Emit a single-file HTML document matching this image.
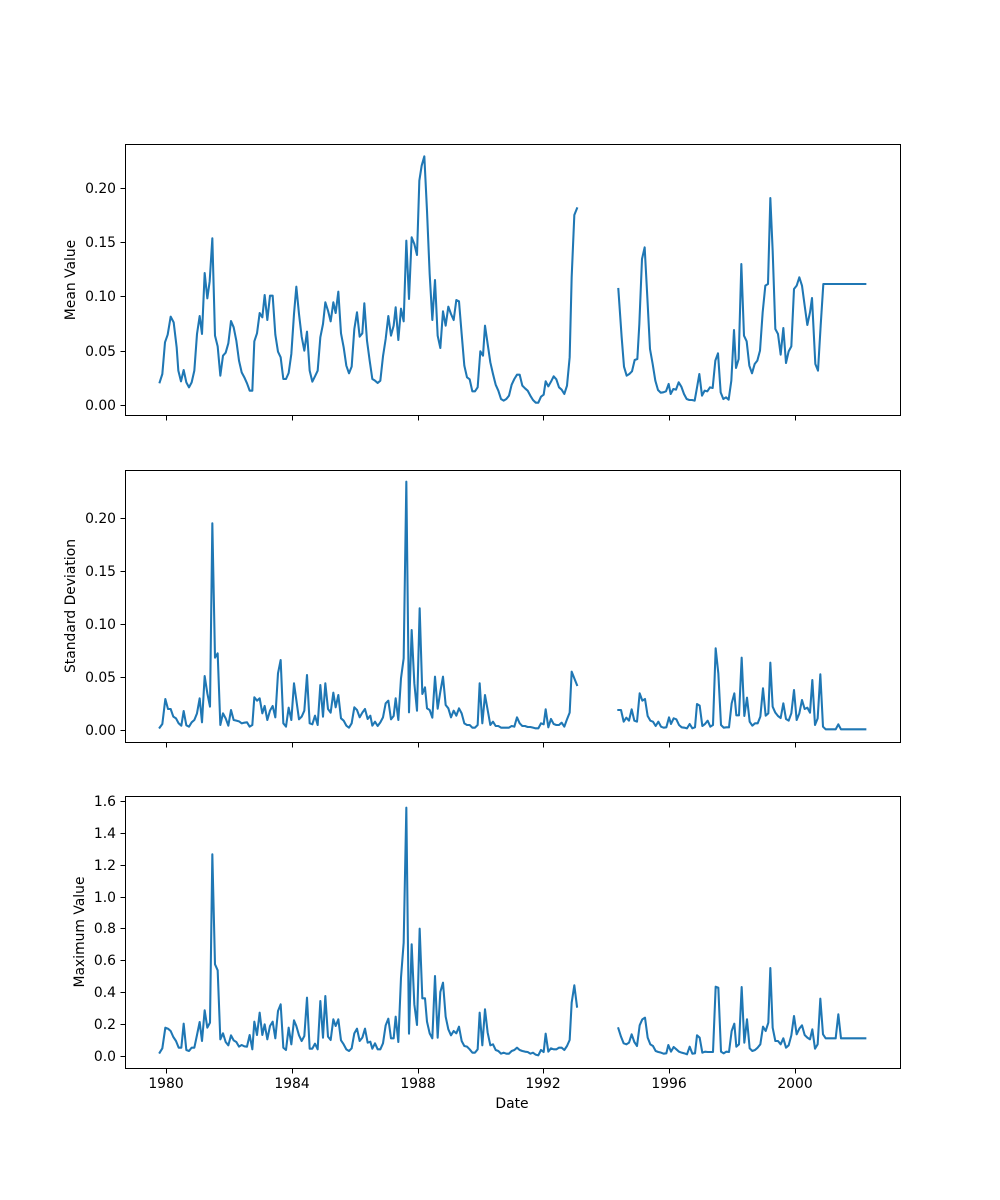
<!DOCTYPE html>
<html><head><meta charset="utf-8"><style>
html,body{margin:0;padding:0;background:#fff}
svg{display:block}
text{font-family:"DejaVu Sans","Liberation Sans",sans-serif;font-size:13.9px;fill:#000}
</style></head><body>
<svg width="1000" height="1200" viewBox="0 0 1000 1200" xmlns="http://www.w3.org/2000/svg">
<rect width="1000" height="1200" fill="#fff"/>
<g fill="none" stroke="#1f77b4" stroke-width="6.2" stroke-linejoin="round" stroke-linecap="square">
<!-- Panel 1 -->
<g transform="translate(125,144) scale(0.33333)">
<polyline points="104,715 112,690 120,595 128,572 137,518 146,535 155,610 160,680 168,712 176,678 184,715 192,730 200,715 208,680 216,570 224,516 231,570 239,387 247,463 254,412 262,283 270,575 278,607 286,695 294,635 302,626 310,598 318,531 326,550 334,590 342,650 350,685 358,700 366,718 374,740 382,740 388,592 396,568 404,507 412,520 419,453 427,528 435,455 443,455 451,572 459,623 467,640 475,705 483,705 491,687 499,630 507,510 514,428 522,510 530,578 538,620 546,563 554,680 562,713 570,697 578,680 586,580 594,540 601,475 609,500 617,532 625,475 632,507 640,443 648,568 656,610 664,665 672,688 680,668 688,555 696,505 704,578 712,568 718,478 726,590 734,650 742,705 750,710 758,717 766,710 774,637 782,585 790,516 798,575 806,545 812,490 820,588 828,494 836,532 844,290 852,465 860,280 868,300 876,333 883,110 890,65 898,37 906,200 914,390 922,528 930,408 938,575 946,612 954,502 962,545 970,488 978,510 986,528 994,468 1002,472 1010,570 1018,665 1026,700 1034,706 1042,742 1050,742 1058,730 1066,622 1074,635 1080,545 1088,600 1096,655 1104,690 1112,722 1120,740 1128,765 1136,770 1144,765 1152,755 1160,722 1168,705 1176,692 1184,692 1192,725 1200,733 1208,740 1216,755 1224,768 1232,776 1240,776 1248,758 1256,752 1262,712 1270,727 1278,713 1286,697 1294,706 1302,730 1310,737 1318,750 1326,725 1334,640 1340,400 1348,213 1356,193"/>
</g>
<g transform="translate(600,144) scale(0.33333)">
<polyline points="55,435 65,580 72,668 80,695 88,690 96,682 104,648 112,645 118,540 126,345 134,310 142,460 150,615 158,660 166,710 174,738 182,746 190,745 198,742 206,720 212,750 220,735 228,737 236,715 244,728 252,750 260,765 268,768 276,768 284,770 292,725 298,690 306,755 314,740 322,742 330,730 338,732 346,650 354,628 362,745 370,765 378,760 386,767 394,710 402,558 408,672 416,645 424,360 432,575 440,592 448,665 456,688 464,660 472,650 480,620 488,505 496,425 504,420 511,162 518,320 526,555 534,570 542,632 550,552 558,657 566,622 574,607 582,435 590,425 598,400 606,425 614,485 622,543 630,505 636,462 646,660 654,680 662,545 670,420 720,420 796,420"/>
</g>
<!-- Panel 2 -->
<g transform="translate(125,470) scale(0.33333)">
<polyline points="104,773 112,762 121,687 129,717 137,717 145,740 153,745 161,760 169,767 176,723 184,766 192,770 200,757 208,750 216,730 224,685 231,757 239,618 247,670 255,710 262,160 270,563 278,550 286,765 294,730 302,745 310,767 318,720 326,750 334,752 342,754 350,760 358,758 366,757 374,770 382,765 388,682 396,692 404,685 412,730 419,708 427,750 435,722 443,708 451,742 459,610 467,570 475,760 483,770 491,713 499,750 507,640 514,690 522,748 530,740 538,722 546,615 554,760 562,763 570,737 578,765 586,645 594,740 601,640 609,717 617,728 625,668 632,712 640,675 648,745 656,752 664,767 672,773 680,760 688,712 696,720 704,742 712,728 720,717 728,747 736,737 742,767 750,755 758,768 766,757 774,742 782,700 790,692 798,748 806,738 812,685 820,750 828,625 836,565 844,35 852,727 860,480 868,640 876,722 884,415 892,672 900,652 906,715 914,720 922,743 930,620 938,716 946,665 954,620 962,705 970,715 978,742 986,722 994,737 1002,715 1010,730 1018,760 1026,765 1034,765 1042,773 1050,773 1058,765 1064,640 1072,760 1080,675 1088,720 1096,765 1104,755 1112,768 1120,768 1128,773 1136,773 1144,773 1152,773 1160,768 1168,770 1176,742 1184,760 1192,768 1200,768 1208,771 1216,771 1224,773 1232,775 1240,775 1248,760 1256,763 1262,718 1270,772 1278,747 1286,762 1294,765 1302,765 1310,758 1318,770 1326,748 1334,728 1340,605 1348,625 1356,645"/>
</g>
<g transform="translate(600,470) scale(0.33333)">
<polyline points="55,720 63,720 71,755 79,743 87,752 95,718 103,752 111,755 119,670 127,692 135,687 143,738 151,752 159,755 167,768 175,755 183,770 191,773 199,772 207,742 213,762 221,745 229,748 237,765 245,772 253,773 261,775 269,762 277,775 285,772 291,702 299,707 307,768 315,762 323,752 331,770 339,765 347,535 355,610 363,765 371,773 379,772 387,772 395,700 403,670 409,736 417,736 425,563 433,738 441,683 449,755 457,767 465,760 473,760 481,740 489,655 497,737 505,730 511,578 518,710 526,728 534,738 542,744 550,700 558,747 566,752 574,730 582,660 590,750 598,730 606,690 614,717 622,713 630,728 637,630 645,765 653,745 661,613 669,770 677,778 707,778 715,763 723,778 796,778"/>
</g>
<!-- Panel 3 -->
<g transform="translate(125,796) scale(0.33333)">
<polyline points="104,770 112,757 121,695 129,698 137,705 145,723 153,735 161,755 169,755 176,683 184,762 192,765 200,755 208,755 216,717 224,678 231,735 239,643 247,695 255,680 262,175 270,505 278,523 286,730 294,712 302,738 310,748 318,718 326,733 334,738 342,752 350,747 358,751 366,752 374,717 382,760 388,677 396,717 404,650 412,717 419,685 427,730 435,690 443,677 451,727 459,645 467,625 475,755 483,762 491,695 499,745 507,673 514,690 522,718 530,735 538,720 546,605 554,758 562,758 570,743 578,760 586,615 594,725 601,600 609,722 617,732 625,670 632,690 640,670 648,733 656,745 664,760 672,765 680,757 688,712 696,698 704,735 712,725 720,698 728,740 736,737 742,758 750,742 758,760 766,760 774,742 782,688 790,668 798,727 806,727 812,662 820,738 828,545 836,440 844,35 852,713 860,445 868,625 876,687 884,398 892,607 900,607 906,677 914,712 922,727 930,540 938,725 946,588 954,560 962,662 970,700 978,718 986,705 994,712 1002,692 1010,735 1018,750 1026,752 1034,760 1042,770 1050,770 1058,760 1064,650 1072,748 1080,640 1088,710 1096,748 1104,745 1112,762 1120,765 1128,773 1136,770 1144,773 1152,773 1160,765 1168,762 1176,755 1184,762 1192,765 1200,767 1208,768 1216,773 1224,770 1232,776 1240,778 1248,762 1256,768 1262,713 1270,767 1278,757 1286,760 1294,760 1302,755 1310,755 1318,762 1326,750 1334,732 1340,620 1348,568 1356,632"/>
</g>
<g transform="translate(600,796) scale(0.33333)">
<polyline points="55,697 63,722 71,742 79,745 87,740 95,715 103,738 111,750 119,688 127,670 135,665 143,725 151,745 159,750 167,765 175,768 183,770 191,773 199,772 205,747 213,767 221,753 229,760 237,767 245,770 253,772 261,775 269,752 277,773 285,772 291,718 299,725 307,770 315,767 323,768 339,768 347,572 355,575 363,767 371,772 379,767 387,768 395,705 403,683 409,752 417,745 425,573 433,740 441,670 449,757 457,765 465,762 473,755 481,745 489,692 497,705 505,680 511,516 518,695 526,735 534,735 542,745 550,727 558,755 566,748 574,718 582,660 590,715 598,698 606,688 614,717 622,725 630,730 637,700 645,758 653,745 661,608 669,715 677,727 707,727 715,655 723,727 796,727"/>
</g>
</g>
<!-- Axes frames -->
<g fill="none" stroke="#000" stroke-width="1">
<rect x="125.5" y="144.5" width="775" height="271"/>
<rect x="125.5" y="470.5" width="775" height="272"/>
<rect x="125.5" y="796.5" width="775" height="272"/>
</g>
<!-- ticks -->
<g stroke="#000" stroke-width="1">
<path d="M166.5,415.5v5M292.5,415.5v5M418.5,415.5v5M543.5,415.5v5M669.5,415.5v5M795.5,415.5v5"/>
<path d="M166.5,742.5v5M292.5,742.5v5M418.5,742.5v5M543.5,742.5v5M669.5,742.5v5M795.5,742.5v5"/>
<path d="M166.5,1068.5v5M292.5,1068.5v5M418.5,1068.5v5M543.5,1068.5v5M669.5,1068.5v5M795.5,1068.5v5"/>
<path d="M125.5,405.5h-5M125.5,351.5h-5M125.5,296.5h-5M125.5,242.5h-5M125.5,188.5h-5"/>
<path d="M125.5,730.5h-5M125.5,677.5h-5M125.5,624.5h-5M125.5,571.5h-5M125.5,518.5h-5"/>
<path d="M125.5,1056.5h-5M125.5,1024.5h-5M125.5,992.5h-5M125.5,960.5h-5M125.5,928.5h-5M125.5,897.5h-5M125.5,865.5h-5M125.5,833.5h-5M125.5,801.5h-5"/>
</g>
<g text-anchor="end">
<text x="116" y="410">0.00</text><text x="116" y="356">0.05</text><text x="116" y="301">0.10</text><text x="116" y="247">0.15</text><text x="116" y="193">0.20</text>
<text x="116" y="735">0.00</text><text x="116" y="682">0.05</text><text x="116" y="629">0.10</text><text x="116" y="576">0.15</text><text x="116" y="523">0.20</text>
<text x="116" y="1061">0.0</text><text x="116" y="1029">0.2</text><text x="116" y="997">0.4</text><text x="116" y="965">0.6</text><text x="116" y="933">0.8</text><text x="116" y="902">1.0</text><text x="116" y="870">1.2</text><text x="116" y="838">1.4</text><text x="116" y="806">1.6</text>
</g>
<g text-anchor="middle">
<text x="166" y="1088">1980</text><text x="292" y="1088">1984</text><text x="418" y="1088">1988</text><text x="543" y="1088">1992</text><text x="669" y="1088">1996</text><text x="795" y="1088">2000</text>
<text x="512" y="1108">Date</text>
<text transform="translate(75,280) rotate(-90)">Mean Value</text>
<text transform="translate(75,606) rotate(-90)">Standard Deviation</text>
<text transform="translate(84,932) rotate(-90)">Maximum Value</text>
</g>
</svg>
</body></html>
